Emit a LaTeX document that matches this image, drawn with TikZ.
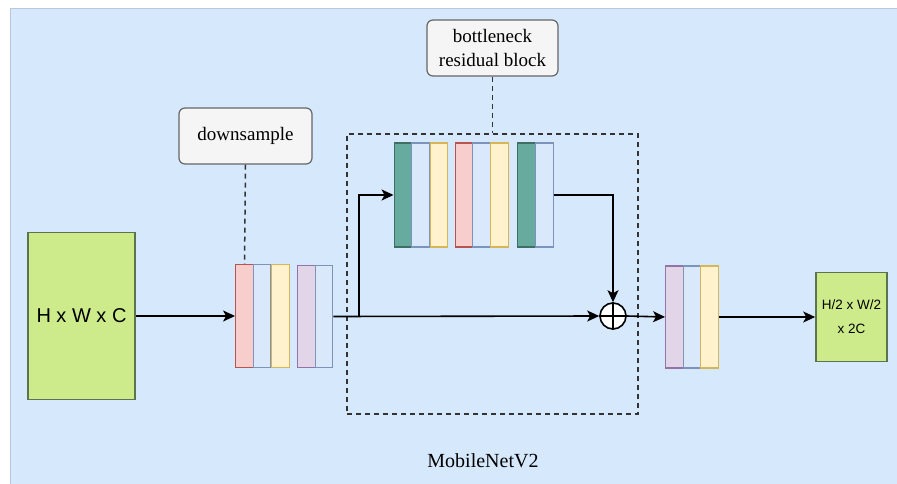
\documentclass[tikz,border=0pt]{standalone}
\usepackage{fontspec}
\setmainfont{Liberation Serif}
\newfontfamily\arialfont{Liberation Sans}
\usetikzlibrary{arrows.meta}
\definecolor{bgblue}{HTML}{D5E8FC}
\definecolor{bgedge}{HTML}{B8C8DA}
\definecolor{pinkF}{HTML}{F8CECC}\definecolor{pinkD}{HTML}{B85450}
\definecolor{blueF}{HTML}{DAE8FC}\definecolor{blueD}{HTML}{7C93BB}
\definecolor{yelF}{HTML}{FFF2CC}\definecolor{yelD}{HTML}{D6B656}
\definecolor{purF}{HTML}{E1D5E7}\definecolor{purD}{HTML}{9673A6}
\definecolor{dgF}{HTML}{67AB9F}\definecolor{dgD}{HTML}{3F6E62}
\definecolor{grF}{HTML}{CDEB8B}\definecolor{grD}{HTML}{5C7350}
\definecolor{lblF}{HTML}{F5F5F5}\definecolor{lblD}{HTML}{666666}
\definecolor{dashC}{HTML}{333333}
\tikzset{
  bar/.style={draw, line width=1.4pt, inner sep=0pt, minimum width=17.5pt, minimum height=#1},
  pinkbar/.style={bar=#1, fill=pinkF, draw=pinkD},
  bluebar/.style={bar=#1, fill=blueF, draw=blueD},
  yelbar/.style={bar=#1, fill=yelF, draw=yelD},
  purbar/.style={bar=#1, fill=purF, draw=purD},
  dgbar/.style={bar=#1, fill=dgF, draw=dgD},
  tensor/.style={draw=grD, fill=grF, line width=1.6pt, inner sep=0pt, font=\arialfont, align=center},
  lbl/.style={draw=lblD, fill=lblF, rounded corners=6pt, line width=1.2pt, inner sep=0pt, align=center, font=\fontsize{19}{24}\selectfont},
  conn/.style={line width=1.6pt, -{Stealth[length=12pt,width=11pt,inset=3pt]}},
  dashl/.style={draw=dashC, line width=1.5pt, dash pattern=on 5pt off 4pt},
}
\begin{document}
\begin{tikzpicture}[x=1pt,y=-1pt]
\useasboundingbox (0,0) rectangle (897,484);
\fill[white] (0,0) rectangle (897,484);
\draw[fill=bgblue, draw=bgedge, line width=1pt] (10,9) rectangle (905,492);

% dashed block
\node[dashl, minimum width=291pt, minimum height=280pt, inner sep=0pt] (blk) at (492.5,274) {};

% input tensor
\node[tensor, minimum width=107pt, minimum height=167pt, font=\arialfont\fontsize{20}{24}\selectfont] (in) at (81.5,316) {H x W x C};

% downsample bars
\node[pinkbar=103pt] (d1) at (244.5,316) {};
\node[bluebar=103pt] (d2) at (262,316) {};
\node[yelbar=103pt] (d3) at (280.5,316) {};
\node[purbar=102pt] (d4) at (306.5,316.5) {};
\node[bluebar=102pt] (d5) at (324,316.5) {};

% bottleneck bars
\node[dgbar=104pt] (b1) at (403,195) {};
\node[bluebar=104pt] (b2) at (420.5,195) {};
\node[yelbar=104pt] (b3) at (439,195) {};
\node[pinkbar=104pt] (b4) at (464,195) {};
\node[bluebar=104pt] (b5) at (481.5,195) {};
\node[yelbar=104pt] (b6) at (499.5,195) {};
\node[dgbar=104pt] (b7) at (526.5,195) {};
\node[bluebar=104pt] (b8) at (544.5,195) {};

% add
\node[draw, circle, fill=white, line width=1.6pt, minimum size=26pt, inner sep=0pt] (add) at (613,316) {};
\draw[line width=1.4pt] (add.north) -- (add.south) (add.west) -- (add.east);

% output bars
\node[purbar=102pt] (o1) at (674.5,317) {};
\node[bluebar=102pt] (o2) at (692,317) {};
\node[yelbar=102pt] (o3) at (709.5,317) {};

% output tensor
\node[tensor, minimum width=71pt, minimum height=89pt, font=\arialfont\fontsize{13.5}{24}\selectfont] (out) at (851.5,317) {H/2 x W/2\\x 2C};

% labels
\node[lbl, minimum width=133pt, minimum height=56pt] (dl) at (245.5,136) {downsample};
\node[lbl, minimum width=131pt, minimum height=56pt] (bl) at (492.5,48) {bottleneck\\residual block};
\draw[dashl] (dl.south) -- (d1.north);
\draw[dashl] (bl.south) -- (blk.north);

% connectors
\draw[conn] (in.east) -- (d1.west);
\draw[conn] (d5.east) -- (add.west);
\coordinate (br) at (359,316);
\draw[conn] (br) |- (b1.west);
\draw[conn] (b8.east) -| (add.north);
\draw[conn] (add.east) -- (o1.west);
\draw[conn] (o3.east) -- (out.west);

% caption
\node[font=\fontsize{20}{22}\selectfont] (cap) at (483,461) {MobileNetV2};
\end{tikzpicture}
\end{document}
